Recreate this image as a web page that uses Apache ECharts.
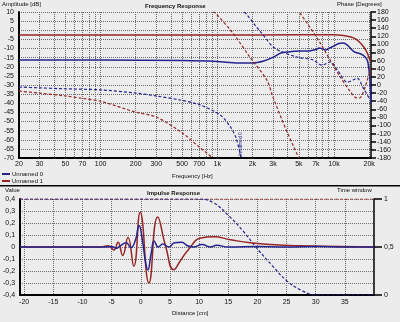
<!DOCTYPE html>
<html>
<head>
<meta charset="utf-8">
<script src="https://cdn.jsdelivr.net/npm/echarts@6/dist/echarts.min.js"></script>
<style>
  html, body { margin: 0; padding: 0; background: #ececec; }
  #chart { width: 400px; height: 322px; }
</style>
</head>
<body>
<div id="chart"></div>
<script>
// frequency response, amplitude (dB)
const freqAmp0 = [20, 100, 500, 1000, 1500, 2000, 2500, 3000, 3500, 4000, 5000, 6000, 7000, 7500, 8000, 8500, 9000, 10000, 11000, 12000, 13000, 14000, 15000, 17000, 18500, 19500, 20300, 20750]
const amp0 = [-16.3, -16.3, -16.6, -17.1, -17.9, -17.9, -16.8, -14.9, -12.5, -11.9, -11.4, -11.4, -10.5, -9.7, -10.3, -10.8, -10.0, -8.6, -7.3, -7.0, -8.1, -10.3, -11.9, -13.0, -14.7, -17.4, -27, -40]
const freqAmp1 = [20, 1000, 5000, 10000, 12000, 14000, 15000, 16500, 18000, 19300, 20000, 20750]
const amp1 = [-2.6, -2.6, -2.5, -2.5, -2.9, -3.7, -4.5, -6.4, -9.2, -12.5, -15.2, -17.4]

// phase (degrees), null = wrap
const freqPh0 = [20, 30, 45, 100, 200, 300, 480, 710, 1060, 1300, 1450, 1600, 1650, 1700, 1800, 2100, 2400, 3100, 4800, 6600, 7900, 9300, 10700, 13000, 14500, 15800, 17800, 20400]
const phase0 = [-5, -7, -9, -12, -20, -27, -37, -49, -74, -104, -131, -180, null, 180, 173, 148, 128, 91, 69, 62, 49, 57, 37, 7, 12, 17, -7, -37]
const freqPh1 = [20, 30, 50, 70, 100, 200, 300, 500, 700, 800, 910, 915, 920, 960, 1360, 1900, 2660, 3000, 3900, 5000, 5050, 5100, 6200, 7600, 9250, 11300, 13700, 15100, 16500, 17400, 19200, 20750]
const phase1 = [-15, -20, -27, -33, -40, -67, -79, -118, -153, -166, -180, null, 180, 178, 128, 69, 12, -30, -111, -180, null, 178, 143, 104, 62, 20, -15, -30, -32, -25, 10, 45]

const freqLabels = [20, 30, 50, 70, 100, 200, 300, 500, 700, 1000, 2000, 3000, 5000, 7000, 10000, 20000]
const freqGrid = [20, 30, 40, 50, 60, 70, 80, 90, 100, 200, 300, 400, 500, 600, 700, 800, 900, 1000, 2000, 3000, 4000, 5000, 6000, 7000, 8000, 9000, 10000, 20000]

// impulse response (distance in cm)
const distImp0 = [-20.7, -6, -5, -4.2, -3.5, -2.5, -1.7, -0.9, -0.3, 0.3, 0.8, 1.2, 1.8, 2.3, 3.0, 3.8, 4.8, 5.8, 7, 8, 9, 10.5, 12, 13, 15, 20, 25, 30, 35, 40]
const imp0 = [0, 0, 0.005, -0.01, 0.01, 0.035, -0.005, 0.06, 0.18, 0.05, -0.12, -0.19, -0.05, 0.05, 0, 0.025, 0, 0.035, 0.04, 0.01, 0, 0.02, 0, 0.015, 0, 0.005, 0, 0.005, 0, 0]
const distImp1 = [-20.7, -7, -5.65, -5.1, -4.6, -3.9, -3.1, -2.2, -1.2, -0.1, 1.4, 2.9, 4.3, 5.65, 6.85, 8.2, 10.3, 12.5, 15.4, 18.8, 22.3, 27.4, 34.2, 40]
const imp1 = [0, 0, 0.01, -0.005, -0.025, 0.04, -0.07, 0.08, -0.16, 0.29, -0.30, 0.25, 0, -0.19, -0.11, -0.02, 0.075, 0.085, 0.06, 0.035, 0.02, 0.01, 0.005, 0]

// time window
const distWin0 = [-20.7, 10, 12.5, 15, 17.5, 20, 22.5, 25, 27.5, 30, 40]
const win0 = [1, 1, 0.96, 0.83, 0.67, 0.48, 0.31, 0.15, 0.05, 0, 0]
const distWin1 = [-20.7, 40]
const win1 = [1, 1]

const distLabels = [-20, -15, -10, -5, 0, 5, 10, 15, 20, 25, 30, 35]

const BLUE = '#24248f'
const RED = '#962626'
const FONT = 'Liberation Sans'

function zip(xs, ys) {
  return xs.map((x, i) => [x, ys[i]])
}

function fmtComma(v) {
  if (Math.abs(v) < 1e-9) return '0'
  let s = (Math.round(v * 10) / 10).toString()
  return s.replace('.', ',')
}

function txt(x, y, text, bold) {
  return {
    type: 'text',
    x: x,
    y: y,
    style: {
      text: text,
      fill: '#111',
      fontSize: 6,
      fontFamily: FONT,
      fontWeight: bold ? 'bold' : 'normal',
      verticalAlign: 'middle'
    }
  }
}

const chart = echarts.init(document.getElementById('chart'))

const gridLine = { show: true, lineStyle: { color: '#6a6a6a', type: [1, 1], width: 1 } }
const labelStyle = { color: '#111', fontSize: 7, fontFamily: FONT }
const blackLine = { show: true, onZero: false, lineStyle: { color: '#000', width: 2 } }

chart.setOption({
  animation: false,
  backgroundColor: '#ececec',
  legend: {
    orient: 'vertical',
    left: 2,
    top: 171,
    padding: 0,
    itemGap: 1,
    itemWidth: 8,
    itemHeight: 2,
    icon: 'rect',
    textStyle: { fontSize: 6, fontFamily: FONT, color: '#111', padding: [0, 0, 0, -3] },
    data: ['Unnamed 0', 'Unnamed 1']
  },
  grid: [
    { left: 19, right: 29, top: 12, height: 146 },
    { left: 19, right: 26, top: 199, height: 96 }
  ],
  xAxis: [{
    type: 'log',
    gridIndex: 0,
    min: 20,
    max: 20750,
    axisLine: blackLine,
    axisTick: { show: false, customValues: freqGrid },
    axisLabel: {
      ...labelStyle,
      margin: 3,
      customValues: freqLabels,
      formatter: v => v >= 1000 ? (v / 1000) + 'k' : String(v)
    },
    splitLine: gridLine
  }, {
    type: 'value',
    gridIndex: 1,
    min: -20.7,
    max: 40,
    axisLine: blackLine,
    axisTick: { show: false, customValues: distLabels },
    axisLabel: { ...labelStyle, margin: 4, customValues: distLabels },
    splitLine: gridLine
  }],
  yAxis: [{
    type: 'value',
    gridIndex: 0,
    min: -70,
    max: 10,
    interval: 5,
    axisLine: blackLine,
    axisTick: { show: false },
    axisLabel: { ...labelStyle, margin: 5 },
    splitLine: gridLine
  }, {
    type: 'value',
    gridIndex: 0,
    position: 'right',
    min: -180,
    max: 180,
    interval: 20,
    axisLine: { show: true, onZero: false, lineStyle: { color: '#000', width: 1.5 } },
    axisTick: { show: true, length: 5, lineStyle: { color: '#000', width: 1.5 } },
    axisLabel: { ...labelStyle, margin: 6 },
    splitLine: { show: false }
  }, {
    type: 'value',
    gridIndex: 1,
    min: -0.4,
    max: 0.4,
    interval: 0.1,
    axisLine: blackLine,
    axisTick: { show: false },
    axisLabel: { ...labelStyle, margin: 5, formatter: fmtComma },
    splitLine: gridLine
  }, {
    type: 'value',
    gridIndex: 1,
    position: 'right',
    min: 0,
    max: 1,
    interval: 0.5,
    axisLine: { show: true, onZero: false, lineStyle: { color: '#000', width: 1.5 } },
    axisTick: { show: true, length: 8, lineStyle: { color: '#000', width: 1.5 } },
    axisLabel: { ...labelStyle, margin: 10, formatter: fmtComma },
    splitLine: { show: false }
  }],
  series: [{
    name: 'Unnamed 0',
    type: 'line',
    xAxisIndex: 0,
    yAxisIndex: 0,
    data: zip(freqAmp0, amp0),
    symbol: 'none',
    smooth: 0.3,
    lineStyle: { color: BLUE, width: 1.5 },
    itemStyle: { color: BLUE }
  }, {
    name: 'Unnamed 1',
    type: 'line',
    xAxisIndex: 0,
    yAxisIndex: 0,
    data: zip(freqAmp1, amp1),
    symbol: 'none',
    smooth: 0.3,
    lineStyle: { color: RED, width: 1.5 },
    itemStyle: { color: RED }
  }, {
    name: 'Unnamed 0',
    type: 'line',
    xAxisIndex: 0,
    yAxisIndex: 1,
    data: zip(freqPh0, phase0),
    symbol: 'none',
    smooth: 0.3,
    connectNulls: false,
    lineStyle: { color: BLUE, width: 1.2, type: [3, 2] },
    itemStyle: { color: BLUE }
  }, {
    name: 'Unnamed 1',
    type: 'line',
    xAxisIndex: 0,
    yAxisIndex: 1,
    data: zip(freqPh1, phase1),
    symbol: 'none',
    smooth: 0.3,
    connectNulls: false,
    lineStyle: { color: RED, width: 1.2, type: [3, 2] },
    itemStyle: { color: RED }
  }, {
    name: 'window 1',
    type: 'line',
    xAxisIndex: 1,
    yAxisIndex: 3,
    data: zip(distWin1, win1),
    symbol: 'none',
    lineStyle: { color: RED, width: 1.2, type: [3, 2] }
  }, {
    name: 'window 0',
    type: 'line',
    xAxisIndex: 1,
    yAxisIndex: 3,
    data: zip(distWin0, win0),
    symbol: 'none',
    smooth: 0.4,
    lineStyle: { color: BLUE, width: 1.2, type: [3, 2] }
  }, {
    name: 'impulse 1',
    type: 'line',
    xAxisIndex: 1,
    yAxisIndex: 2,
    data: zip(distImp1, imp1),
    symbol: 'none',
    smooth: 0.5,
    lineStyle: { color: RED, width: 1.5 }
  }, {
    name: 'impulse 0',
    type: 'line',
    xAxisIndex: 1,
    yAxisIndex: 2,
    data: zip(distImp0, imp0),
    symbol: 'none',
    smooth: 0.5,
    lineStyle: { color: BLUE, width: 1.5 }
  }],
  graphic: [
    txt(2, 4, 'Amplitude [dB]'),
    txt(145, 6, 'Frequency Response', true),
    txt(337, 4, 'Phase [Degrees]'),
    txt(172, 176, 'Frequency [Hz]'),
    txt(5, 190, 'Value'),
    txt(147, 193, 'Impulse Response', true),
    txt(337, 190, 'Time window'),
    txt(172, 313, 'Distance [cm]'),
    {
      type: 'text',
      x: 241,
      y: 158,
      rotation: Math.PI / 2,
      style: { text: 'Unnamed 0', fill: BLUE, fontSize: 5, fontFamily: FONT, verticalAlign: 'middle' }
    },
    {
      type: 'rect',
      shape: { x: 0, y: 185, width: 400, height: 1.5 },
      style: { fill: '#000' }
    }
  ]
})
</script>
</body>
</html>
